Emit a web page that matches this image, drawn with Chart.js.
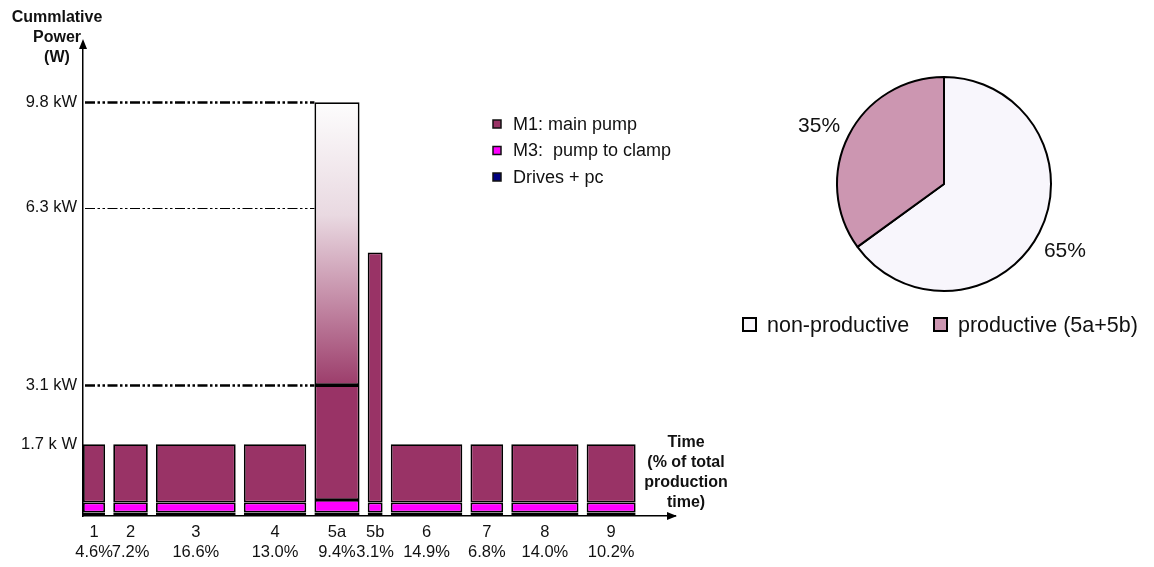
<!DOCTYPE html>
<html>
<head>
<meta charset="utf-8">
<title>Cumulative power per phase</title>
<script src="https://cdn.jsdelivr.net/npm/chart.js@4.4.1/dist/chart.umd.min.js"></script>
<style>
    html, body { margin: 0; padding: 0; background: #fff; }
    #wrap { position: relative; width: 1154px; height: 567px; }
    #barBox { position: absolute; left: 0; top: 0; width: 740px; height: 567px; }
    #pieBox { position: absolute; left: 740px; top: 0; width: 414px; height: 567px; }
</style>
</head>
<body>
<div id="wrap">
    <div id="barBox"><canvas id="powerChart"></canvas></div>
    <div id="pieBox"><canvas id="shareChart"></canvas></div>
</div>
<script>
// --- DATA (power in kW, time in % of total production time) ---
const phases = ['1', '2', '3', '4', '5a', '5b', '6', '7', '8', '9'];
const timeShare = [4.6, 7.2, 16.6, 13.0, 9.4, 3.1, 14.9, 6.8, 14.0, 10.2];
const drivesPower = [0.08, 0.08, 0.08, 0.08, 0.08, 0.08, 0.08, 0.08, 0.08, 0.08];
const m3Power = [0.24, 0.24, 0.24, 0.24, 0.30, 0.24, 0.24, 0.24, 0.24, 0.24];
const m1Power = [1.38, 1.38, 1.38, 1.38, 2.72, 5.92, 1.38, 1.38, 1.38, 1.38];
const m1PeakPower = [null, null, null, null, 6.7, null, null, null, null, null];

// power levels marked on the y axis (6.3 kW guide sits where the source draws it)
const levelTicks = [1.7, 3.1, 7.3, 9.8];
const levelLabels = ['1.7 k W', '3.1 kW', '6.3 kW', '9.8 kW'];

const shareLabels = ['non-productive', 'productive (5a+5b)'];
const shareValues = [65, 35];

// --- STYLE ---
Chart.defaults.font.family = "'Liberation Sans', Arial, sans-serif";
Chart.defaults.color = '#111';
const FONT = "'Liberation Sans', Arial, sans-serif";
const GAP = 1.7;                       // gap between bars, in % units
const guideWidths = [0, 2.5, 1.2, 2.5]; // 0 = no guide line for that level

// bars are placed side by side, each as wide as its time share
const spans = [];
let pos = 0;
timeShare.forEach(w => {
    spans.push({ from: pos, to: pos + w, mid: pos + w / 2 });
    pos += w + GAP;
});

const toPoints = values => values.map((v, i) => ({ x: spans[i].mid, y: v, w: timeShare[i] }));

// bar controller whose bar width follows the x scale (variable width bars)
class SpanBarController extends Chart.BarController {
    _calculateBarIndexPixels(index, ruler) {
        const raw = this.getDataset().data[index];
        const scale = this._cachedMeta.iScale;
        const a = scale.getPixelForValue(raw.x - raw.w / 2);
        const b = scale.getPixelForValue(raw.x + raw.w / 2);
        return { base: a, head: b, center: (a + b) / 2, size: b - a };
    }
}
SpanBarController.id = 'spanBar';
SpanBarController.defaults = Chart.BarController.defaults;
SpanBarController.overrides = Chart.BarController.overrides;
Chart.register(SpanBarController);

function peakGradient(context) {
    const chart = context.chart;
    if (!chart.chartArea) return '#993366';
    const y = chart.scales.y;
    const i = 4;
    const low = drivesPower[i] + m3Power[i] + m1Power[i];
    const high = low + m1PeakPower[i];
    const g = chart.ctx.createLinearGradient(0, y.getPixelForValue(low), 0, y.getPixelForValue(high));
    g.addColorStop(0, '#9c3d6b');
    g.addColorStop(0.3, '#c48ca7');
    g.addColorStop(0.6, '#e9d9e1');
    g.addColorStop(1, '#fdfdfd');
    return g;
}

const barDecor = {
    id: 'barDecor',
    beforeDatasetsDraw(chart) {
        const { ctx, chartArea, scales: { y } } = chart;
        const bar5a = chart.getDatasetMeta(0).data[4];
        const stopX = bar5a.x - bar5a.width / 2;
        ctx.save();
        ctx.strokeStyle = '#000';
        ctx.setLineDash([10, 2.5, 2.5, 2.5, 2.5, 2.5]);
        levelTicks.forEach((v, i) => {
            if (!guideWidths[i]) return;
            const py = Math.round(y.getPixelForValue(v)) + 0.5;
            ctx.lineWidth = guideWidths[i];
            ctx.beginPath();
            ctx.moveTo(chartArea.left + 2, py);
            ctx.lineTo(stopX, py);
            ctx.stroke();
        });
        ctx.restore();
    },
    afterDraw(chart) {
        const { ctx, chartArea } = chart;
        ctx.save();
        // axis arrows
        ctx.fillStyle = '#000';
        ctx.beginPath();
        ctx.moveTo(chartArea.left, chartArea.top - 4);
        ctx.lineTo(chartArea.left - 4, chartArea.top + 6);
        ctx.lineTo(chartArea.left + 4, chartArea.top + 6);
        ctx.fill();
        ctx.beginPath();
        ctx.moveTo(chartArea.right + 2, chartArea.bottom);
        ctx.lineTo(chartArea.right - 8, chartArea.bottom - 4);
        ctx.lineTo(chartArea.right - 8, chartArea.bottom + 4);
        ctx.fill();

        // axis titles
        ctx.font = 'bold 16px ' + FONT;
        ctx.fillStyle = '#111';
        ctx.textAlign = 'center';
        ctx.textBaseline = 'middle';
        ['Cummlative', 'Power', '(W)'].forEach((t, i) => ctx.fillText(t, 57, 18 + i * 20));
        ['Time', '(% of total', 'production', 'time)'].forEach((t, i) => ctx.fillText(t, 686, 443 + i * 20));

        // legend
        ctx.font = '18px ' + FONT;
        ctx.textAlign = 'left';
        [2, 1, 0].forEach((d, row) => {
            const ds = chart.data.datasets[d];
            const cy = 124 + row * 26.5;
            ctx.fillStyle = ds.backgroundColor;
            ctx.fillRect(493, cy - 4, 8, 8);
            ctx.strokeStyle = '#111';
            ctx.lineWidth = 1.5;
            ctx.strokeRect(493, cy - 4, 8, 8);
            ctx.fillStyle = '#111';
            ctx.fillText(ds.label, 513, cy + 1);
        });
        ctx.restore();
    }
};

const barStyle = {
    borderColor: '#000',
    borderWidth: 1.8,
    borderSkipped: false,
    inflateAmount: 0
};

new Chart(document.getElementById('powerChart'), {
    type: 'spanBar',
    data: {
        datasets: [
            { label: 'Drives + pc', data: toPoints(drivesPower), backgroundColor: '#000080', ...barStyle },
            { label: 'M3:  pump to clamp', data: toPoints(m3Power), backgroundColor: '#ff00ff', ...barStyle },
            { label: 'M1: main pump', data: toPoints(m1Power), backgroundColor: '#993366', ...barStyle },
            { label: 'M1 peak', data: toPoints(m1PeakPower), backgroundColor: peakGradient, ...barStyle }
        ]
    },
    options: {
        responsive: true,
        maintainAspectRatio: false,
        animation: false,
        layout: { padding: { left: 0, top: 43, right: 65, bottom: 0 } },
        plugins: { legend: { display: false }, tooltip: { enabled: false } },
        scales: {
            x: {
                type: 'linear',
                min: 0,
                max: 123.3,
                offset: false,
                grid: { display: false, drawTicks: false },
                border: { color: '#000', width: 1.5 },
                afterBuildTicks: scale => { scale.ticks = spans.map(s => ({ value: s.mid })); },
                afterFit: scale => { scale.height = 51; },
                ticks: {
                    autoSkip: false,
                    maxRotation: 0,
                    minRotation: 0,
                    padding: 7,
                    font: { size: 16.5 },
                    callback: (value, i) => [phases[i], timeShare[i].toFixed(1) + '%']
                }
            },
            y: {
                type: 'linear',
                stacked: true,
                min: 0,
                max: 11.2,
                grid: { display: false, drawTicks: false },
                border: { color: '#000', width: 1.5 },
                afterBuildTicks: scale => { scale.ticks = levelTicks.map(v => ({ value: v })); },
                afterFit: scale => { scale.width = 83; },
                ticks: {
                    padding: 6,
                    font: { size: 16.5 },
                    callback: (value, i) => levelLabels[i]
                }
            }
        }
    },
    plugins: [barDecor]
});

// --- PIE: share of production time ---
const pieDecor = {
    id: 'pieDecor',
    afterDraw(chart) {
        const { ctx } = chart;
        const meta = chart.getDatasetMeta(0);
        ctx.save();
        ctx.fillStyle = '#111';
        ctx.font = '21px ' + FONT;
        ctx.textAlign = 'center';
        ctx.textBaseline = 'middle';
        meta.data.forEach((arc, i) => {
            const mid = (arc.startAngle + arc.endAngle) / 2;
            const r = arc.outerRadius + 31;
            ctx.fillText(shareValues[i] + '%', arc.x + Math.cos(mid) * r - 2, arc.y + Math.sin(mid) * r + 5);
        });

        // legend
        ctx.font = '21.5px ' + FONT;
        ctx.textAlign = 'left';
        const ds = chart.data.datasets[0];
        [3, 194].forEach((lx, i) => {
            ctx.fillStyle = ds.backgroundColor[i];
            ctx.fillRect(lx, 318, 13, 13);
            ctx.strokeStyle = '#000';
            ctx.lineWidth = 2;
            ctx.strokeRect(lx, 318, 13, 13);
            ctx.fillStyle = '#111';
            ctx.fillText(chart.data.labels[i], lx + 24, 326);
        });
        ctx.restore();
    }
};

new Chart(document.getElementById('shareChart'), {
    type: 'pie',
    data: {
        labels: shareLabels,
        datasets: [{
            data: shareValues,
            backgroundColor: ['#f8f6fc', '#cc96b1'],
            borderColor: '#000',
            borderWidth: 2
        }]
    },
    options: {
        responsive: true,
        maintainAspectRatio: false,
        animation: false,
        layout: { padding: { left: 96, top: 76, right: 102, bottom: 275 } },
        plugins: { legend: { display: false }, tooltip: { enabled: false } }
    },
    plugins: [pieDecor]
});
</script>
</body>
</html>
